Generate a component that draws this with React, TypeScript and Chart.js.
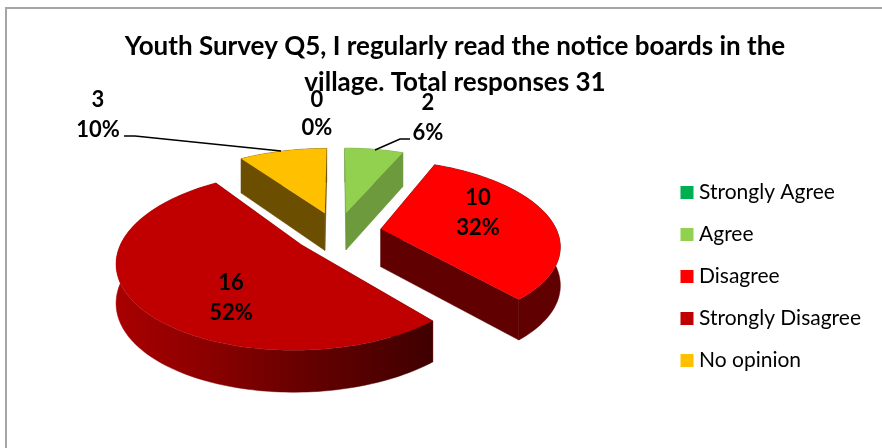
import React, { useEffect, useRef } from "react";
import { Chart, registerables } from "chart.js";

Chart.register(...registerables);

const categories = ["Strongly Agree", "Agree", "Disagree", "Strongly Disagree", "No opinion"];
const counts = [0, 2, 10, 16, 3];
const titleLines = ["Youth Survey Q5, I regularly read the notice boards in the", "village. Total responses 31"];
const topColors = ["#00b050", "#92d050", "#ff0000", "#c00000", "#ffc000"];
const wallColors = ["#00702f", "#6c9a3c", "#600000", "#700000", "#6b4e00"];
const labelCentres = [[317, 100, 128], [428, 103, 133], [478, 198, 228], [231, 283, 313], [98, 100, 130]];

const FONT = "Lato";
const CX = 337.5, CY = 232, A = 176.5, B = 82, K = 0.174, EXPLODE = 0.25;

const project = (u: number, v: number) => {
  const s = 1 / (1 - K * v);
  return [CX + A * u * s, CY + B * v * s, 38 + 3.4 * v];
};

const pie3d = {
  id: "pie3d",
  beforeDraw(chart: any) {
    const { ctx } = chart;
    ctx.save();
    ctx.strokeStyle = "#a6a6a6";
    ctx.lineWidth = 2;
    ctx.beginPath();
    ctx.moveTo(6, 448);
    ctx.lineTo(6, 8);
    ctx.lineTo(882, 8);
    ctx.stroke();
    ctx.restore();
  },
  beforeDatasetsDraw(chart: any) {
    const { ctx } = chart;
    const meta = chart.getDatasetMeta(0);
    const slices = meta.data
      .map((arc: any, i: number) => {
        const start = arc.startAngle + Math.PI / 2;
        const end = arc.endAngle + Math.PI / 2;
        return { i, start, end, mid: (start + end) / 2 };
      })
      .filter((s: any) => s.end - s.start > 0.001);
    slices.sort((p: any, q: any) => -Math.cos(p.mid) + Math.cos(q.mid));

    ctx.save();
    for (const s of slices) {
      const ou = EXPLODE * Math.sin(s.mid);
      const ov = -EXPLODE * Math.cos(s.mid);
      const steps = Math.max(8, Math.ceil((s.end - s.start) * 40));
      const rim: number[][] = [];
      for (let n = 0; n <= steps; n++) {
        const t = s.start + ((s.end - s.start) * n) / steps;
        rim.push(project(ou + Math.sin(t), ov - Math.cos(t)));
      }
      const tip = project(ou, ov);
      let wall: any = wallColors[s.i];
      if (categories[s.i] === "Strongly Disagree") {
        const g = ctx.createLinearGradient(117, 0, 432, 0);
        g.addColorStop(0, "#a80000");
        g.addColorStop(0.3, "#8a0000");
        g.addColorStop(0.6, "#660000");
        g.addColorStop(1, "#400000");
        wall = g;
      }
      ctx.fillStyle = wallColors[s.i];
      ctx.strokeStyle = wallColors[s.i];
      ctx.lineWidth = 0.5;
      const quad = (p: number[], q: number[]) => {
        ctx.beginPath();
        ctx.moveTo(p[0], p[1]);
        ctx.lineTo(q[0], q[1]);
        ctx.lineTo(q[0], q[1] + q[2]);
        ctx.lineTo(p[0], p[1] + p[2]);
        ctx.closePath();
        ctx.fill();
        ctx.stroke();
      };
      quad(tip, rim[0]);
      quad(tip, rim[rim.length - 1]);
      ctx.fillStyle = wall;
      ctx.strokeStyle = wall;
      ctx.beginPath();
      rim.forEach((p, n) => (n ? ctx.lineTo(p[0], p[1]) : ctx.moveTo(p[0], p[1])));
      for (let n = rim.length - 1; n >= 0; n--) ctx.lineTo(rim[n][0], rim[n][1] + rim[n][2]);
      ctx.closePath();
      ctx.fill();
      ctx.stroke();

      ctx.fillStyle = topColors[s.i];
      ctx.beginPath();
      ctx.moveTo(tip[0], tip[1]);
      rim.forEach((p) => ctx.lineTo(p[0], p[1]));
      ctx.closePath();
      ctx.fill();
    }
    ctx.restore();
    return false;
  },
  afterDraw(chart: any) {
    const { ctx } = chart;
    const total = counts.reduce((a, b) => a + b, 0);
    ctx.save();
    ctx.strokeStyle = "#000";
    ctx.lineWidth = 1.5;
    ctx.beginPath();
    ctx.moveTo(124, 136);
    ctx.lineTo(135, 136);
    ctx.lineTo(281, 151);
    ctx.moveTo(375, 150);
    ctx.lineTo(400, 139);
    ctx.lineTo(410, 139);
    ctx.stroke();
    ctx.fillStyle = "#000";
    ctx.font = `bold 22px ${FONT}`;
    ctx.textAlign = "center";
    ctx.textBaseline = "middle";
    counts.forEach((c, i) => {
      const [x, y1, y2] = labelCentres[i];
      ctx.fillText(String(c), x, y1);
      ctx.fillText(`${Math.round((c / total) * 100)}%`, x, y2);
    });
    ctx.restore();
  },
};

export default function App() {
  const ref = useRef<HTMLCanvasElement>(null);
  useEffect(() => {
    const chart = new Chart(ref.current as HTMLCanvasElement, {
      type: "pie",
      data: {
        labels: categories,
        datasets: [{ data: counts, backgroundColor: topColors, borderWidth: 0 }],
      },
      options: {
        responsive: false,
        animation: false,
        layout: { padding: { left: 39, right: 11, top: 29, bottom: -76 } },
        plugins: {
          tooltip: { enabled: false },
          title: {
            display: true,
            text: titleLines,
            color: "#000",
            font: { family: FONT, size: 26, weight: "bold", lineHeight: 1.385 },
            padding: { top: 0, bottom: 0 },
          },
          legend: {
            position: "right",
            labels: {
              color: "#000",
              font: { family: FONT, size: 21 },
              usePointStyle: true,
              pointStyle: "rect",
              boxWidth: 3,
              boxHeight: 13,
              padding: 21,
            },
          },
        },
      },
      plugins: [pie3d],
    } as any);
    return () => chart.destroy();
  }, []);
  return (
    <div style={{ position: "fixed", left: 0, top: 0, width: 882, height: 448, background: "#fff" }}>
      <canvas ref={ref} width={882} height={448} style={{ display: "block" }} />
    </div>
  );
}
